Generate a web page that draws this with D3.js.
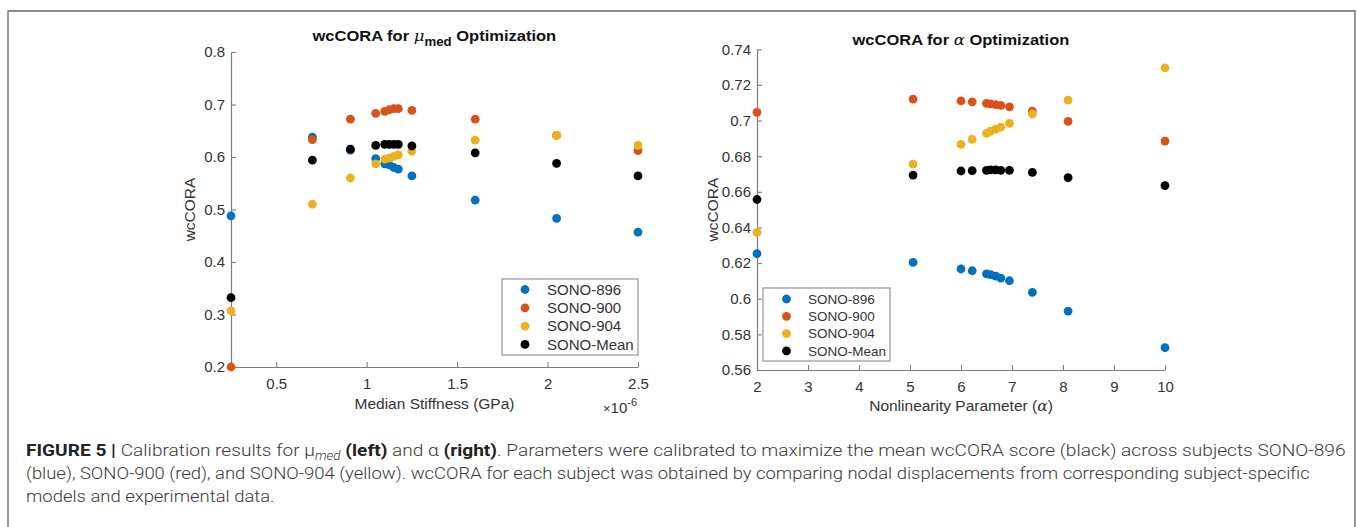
<!DOCTYPE html>
<html><head><meta charset="utf-8">
<script src="https://cdn.jsdelivr.net/npm/d3@7"></script>
<style>body{margin:0;background:#fff}svg{display:block}</style>
</head><body>
<svg id="c" width="1357" height="527"></svg>
<script>
// ---------------- DATA ----------------
const seriesNames = ["SONO-896", "SONO-900", "SONO-904", "SONO-Mean"];
const seriesColors = ["#0072BD", "#D95319", "#EDB120", "#000000"];

// Left: median stiffness (x in units of 1e-6 GPa)
const muX       = [0.25, 0.70, 0.91, 1.05, 1.10, 1.125, 1.15, 1.175, 1.25, 1.60, 2.05, 2.50];
const muSono896 = [0.488, 0.638, 0.613, 0.597, 0.587, 0.585, 0.580, 0.577, 0.564, 0.518, 0.483, 0.457];
const muSono900 = [0.200, 0.633, 0.672, 0.683, 0.687, 0.690, 0.692, 0.692, 0.689, 0.672, 0.641, 0.612];
const muSono904 = [0.307, 0.510, 0.560, 0.587, 0.596, 0.598, 0.601, 0.604, 0.611, 0.632, 0.641, 0.622];
const muMean    = [0.332, 0.594, 0.615, 0.622, 0.624, 0.624, 0.624, 0.624, 0.621, 0.608, 0.588, 0.564];
const muXTicks = [0.5, 1, 1.5, 2, 2.5];
const muXTickLabels = ["0.5", "1", "1.5", "2", "2.5"];
const muYTicks = [0.2, 0.3, 0.4, 0.5, 0.6, 0.7, 0.8];
const muYTickLabels = ["0.2", "0.3", "0.4", "0.5", "0.6", "0.7", "0.8"];

// Right: nonlinearity parameter alpha
const alphaX   = [2, 5.06, 6.00, 6.22, 6.50, 6.58, 6.68, 6.78, 6.95, 7.40, 8.10, 10];
const aSono896 = [0.6253, 0.6204, 0.6167, 0.6157, 0.6140, 0.6135, 0.6127, 0.6116, 0.6101, 0.6036, 0.5931, 0.5725];
const aSono900 = [0.7046, 0.7120, 0.7110, 0.7105, 0.7096, 0.7094, 0.7090, 0.7085, 0.7077, 0.7053, 0.6995, 0.6885];
const aSono904 = [0.6373, 0.6756, 0.6866, 0.6894, 0.6928, 0.6940, 0.6952, 0.6963, 0.6984, 0.7038, 0.7115, 0.7296];
const aMean    = [0.6557, 0.6694, 0.6717, 0.6719, 0.6721, 0.6723, 0.6723, 0.6721, 0.6721, 0.6709, 0.6680, 0.6635];
const aXTicks = [2, 3, 4, 5, 6, 7, 8, 9, 10];
const aXTickLabels = ["2", "3", "4", "5", "6", "7", "8", "9", "10"];
const aYTicks = [0.56, 0.58, 0.60, 0.62, 0.64, 0.66, 0.68, 0.70, 0.72, 0.74];
const aYTickLabels = ["0.56", "0.58", "0.6", "0.62", "0.64", "0.66", "0.68", "0.7", "0.72", "0.74"];

// ---------------- DRAW ----------------
const svg = d3.select("#c");
const FONT = "'Liberation Sans', Arial, Helvetica, sans-serif";
const AXC = "#7d7d7d", TXC = "#333333";

// figure frame
svg.append("path").attr("d", "M8,527 V11 H1355 V527")
  .attr("fill", "none").attr("stroke", "#666").attr("stroke-width", 1.3);

function fitText(t, x0, target) {
  const w = t.node().getComputedTextLength();
  const s = target / w;
  const y = +t.attr("y");
  t.attr("x", 0).attr("y", 0).attr("transform", `translate(${x0},${y}) scale(${s},1)`);
  return s;
}

function panel(cfg) {
  const x = d3.scaleLinear().domain(cfg.xDom).range([cfg.x0, cfg.x1]);
  const y = d3.scaleLinear().domain(cfg.yDom).range([cfg.y1, cfg.y0]);
  const g = svg.append("g");

  const xa = d3.axisBottom(x).tickValues(cfg.xTicks)
    .tickFormat((d, i) => cfg.xTickLabels[i]).tickSizeInner(-5).tickSizeOuter(0).tickPadding(0);
  const gx = g.append("g").attr("transform", `translate(0,${cfg.y1})`).call(xa);
  gx.selectAll("text").attr("dy", null).attr("y", 21.5);

  const ya = d3.axisLeft(y).tickValues(cfg.yTicks)
    .tickFormat((d, i) => cfg.yTickLabels[i]).tickSizeInner(-5).tickSizeOuter(0).tickPadding(6);
  const gy = g.append("g").attr("transform", `translate(${cfg.x0},0)`).call(ya);

  [gx, gy].forEach(a => {
    a.select(".domain").attr("stroke", AXC).attr("stroke-width", 1.2);
    a.selectAll(".tick line").attr("stroke", AXC).attr("stroke-width", 1.1);
    a.selectAll("text").attr("fill", TXC).style("font-family", FONT).style("font-size", "15px");
  });

  // points in series order
  cfg.series.forEach((vals, si) => {
    g.append("g").selectAll("circle").data(vals).join("circle")
      .attr("cx", (d, i) => x(cfg.xs[i])).attr("cy", d => y(d))
      .attr("r", 4.4).attr("fill", seriesColors[si]);
  });

  // title
  const cx = (cfg.x0 + cfg.x1) / 2;
  const tt = g.append("text").attr("y", cfg.titleY).attr("fill", "#111")
    .style("font-family", FONT).style("font-size", "15px").style("font-weight", "bold");
  cfg.title(tt);
  fitText(tt, cx - cfg.titleW / 2, cfg.titleW);

  // x label
  const xl = g.append("text").attr("x", cx).attr("y", cfg.xLabelY).attr("text-anchor", "middle")
    .attr("fill", TXC).style("font-family", FONT).style("font-size", "15.5px");
  cfg.xLabel(xl);

  // y label
  g.append("text").attr("transform", `translate(${cfg.yLabelX},${(cfg.y0 + cfg.y1) / 2}) rotate(-90)`)
    .attr("text-anchor", "middle").attr("fill", TXC)
    .style("font-family", FONT).style("font-size", "15.5px").text("wcCORA");

  // legend
  const L = cfg.legend;
  const lg = g.append("g");
  lg.append("rect").attr("x", L.x).attr("y", L.y).attr("width", L.w).attr("height", L.h)
    .attr("fill", "#fff").attr("stroke", "#8a8a8a").attr("stroke-width", 1.1);
  seriesNames.forEach((n, i) => {
    const yy = L.y + L.pad + i * L.step;
    lg.append("circle").attr("cx", L.x + L.mx).attr("cy", yy).attr("r", 4.4).attr("fill", seriesColors[i]);
    lg.append("text").attr("x", L.x + L.tx).attr("y", yy).attr("dy", "0.35em").attr("fill", TXC)
      .style("font-family", FONT).style("font-size", L.fs + "px").text(n);
  });
  return {x, y, g};
}

// Left panel
const P1 = panel({
  xDom: [0.25, 2.5], yDom: [0.2, 0.8], x0: 231, x1: 638, y0: 52, y1: 367,
  xTicks: muXTicks, xTickLabels: muXTickLabels, yTicks: muYTicks, yTickLabels: muYTickLabels,
  xs: muX, series: [muSono896, muSono900, muSono904, muMean],
  titleY: 40.7, titleW: 244,
  title: t => {
    t.append("tspan").text("wcCORA for ");
    t.append("tspan").style("font-family", "'DejaVu Serif', serif").style("font-style", "italic")
      .style("font-weight", "normal").text("μ");
    t.append("tspan").attr("dy", 5).style("font-size", "12px").text("med");
    t.append("tspan").attr("dy", -5).text(" Optimization");
  },
  xLabelY: 409, xLabel: t => t.text("Median Stiffness (GPa)"),
  yLabelX: 195,
  legend: {x: 502, y: 279, w: 136, h: 76, pad: 10.5, step: 18.3, mx: 23, tx: 45, fs: 15}
});
// ×10^-6 exponent label
const ex = P1.g.append("text").attr("x", 603).attr("y", 413).attr("fill", TXC)
  .style("font-family", FONT).style("font-size", "15px");
ex.append("tspan").style("font-size", "13px").text("×");
ex.append("tspan").text("10");
ex.append("tspan").attr("dy", -7).style("font-size", "11px").text("-6");

// Right panel
panel({
  xDom: [2, 10], yDom: [0.56, 0.74], x0: 757, x1: 1165, y0: 49.3, y1: 370,
  xTicks: aXTicks, xTickLabels: aXTickLabels, yTicks: aYTicks, yTickLabels: aYTickLabels,
  xs: alphaX, series: [aSono896, aSono900, aSono904, aMean],
  titleY: 45, titleW: 217,
  title: t => {
    t.append("tspan").text("wcCORA for ");
    t.append("tspan").style("font-family", "'DejaVu Serif', serif").style("font-style", "italic")
      .style("font-weight", "normal").text("α");
    t.append("tspan").text(" Optimization");
  },
  xLabelY: 411, xLabel: t => {
    t.append("tspan").text("Nonlinearity Parameter (");
    t.append("tspan").style("font-family", "'DejaVu Serif', serif").style("font-style", "italic").text("α");
    t.append("tspan").text(")");
  },
  yLabelX: 718,
  legend: {x: 763, y: 288, w: 127, h: 73, pad: 11, step: 17.3, mx: 23.5, tx: 45, fs: 13.5}
});

// ---------------- CAPTION ----------------
const CFONT = "Roboto, 'Liberation Sans', Arial, sans-serif";
const capLines = [
  [["b", "FIGURE 5 | "], ["n", "Calibration results for "], ["mu", "μ"], ["sub", "med"], ["b", " (left)"],
   ["n", " and α "], ["b", "(right)"], ["n", ". Parameters were calibrated to maximize the mean wcCORA score (black) across subjects SONO-896"]],
  [["n", "(blue), SONO-900 (red), and SONO-904 (yellow). wcCORA for each subject was obtained by comparing nodal displacements from corresponding subject-specific"]],
  [["n", "models and experimental data."]]
];
const capY = [456, 479, 502];
const capW = [1320, 1285, null];
let lastScale = 1;
capLines.forEach((parts, li) => {
  const t = svg.append("text").attr("y", capY[li]).attr("fill", "#3a3a3a")
    .style("font-family", CFONT).style("font-size", "17px").style("font-weight", "300");
  parts.forEach(([k, s]) => {
    const sp = t.append("tspan").text(s);
    if (k === "b") sp.style("font-weight", "bold").attr("fill", "#222");
    if (k === "sub") { sp.attr("dy", 4).style("font-style", "italic").style("font-size", "12px"); }
    if (k === "b" && s === " (left)") sp.attr("dy", -4);
  });
  if (capW[li]) lastScale = fitText(t, 26, capW[li]);
  else { const y = +t.attr("y"); t.attr("x", 0).attr("y", 0).attr("transform", `translate(26,${y}) scale(${lastScale},1)`); }
});
</script>
</body></html>
